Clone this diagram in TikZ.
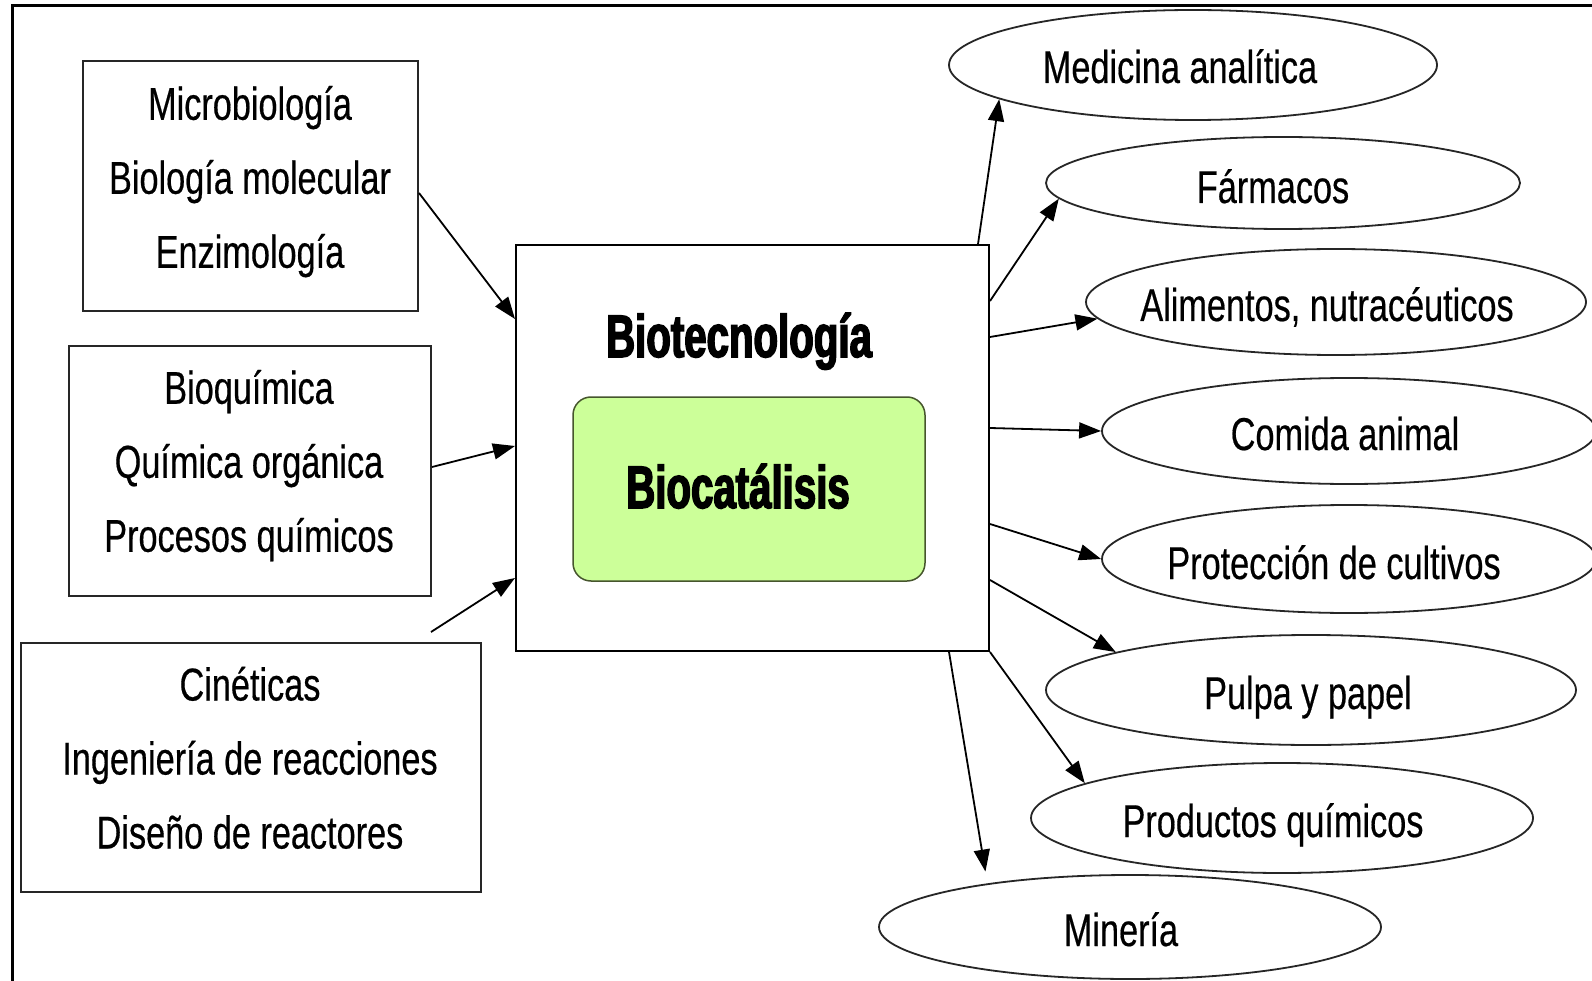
\documentclass[tikz,border=0pt]{standalone}
\usepackage{fontspec}
\setmainfont{Liberation Sans}[FakeStretch=0.745,FakeBold=0.4]
\newfontfamily\titlefont{Liberation Sans Bold}[FakeStretch=0.67,FakeBold=2.5]
\usetikzlibrary{shapes.geometric,arrows.meta,calc}
\definecolor{biogreen}{RGB}{204,255,153}
\definecolor{bioedge}{RGB}{70,85,45}
\begin{document}
\begin{tikzpicture}[x=1pt,y=-1pt,
  txt/.style={font=\fontsize{46}{74}\selectfont, inner sep=0pt, align=center},
  elltxt/.style={font=\fontsize{46}{46}\selectfont, inner sep=0pt, anchor=base},
  ttl/.style={font=\titlefont\fontsize{60}{60}\selectfont, inner sep=0pt, anchor=base},
  srcbox/.style={draw=black!85, line width=2pt, inner sep=0pt, rectangle},
  app/.style={draw=black!85, line width=1.8pt, ellipse, inner sep=0pt},
  arr/.style={line width=1.8pt, -{Triangle[length=22pt,width=16pt]}},
  ]
\path[use as bounding box] (0,0) rectangle (1592,981);
\fill[white] (0,0) rectangle (1592,981);
\draw[line width=3pt] (12.5,981) -- (12.5,5.5) -- (1592,5.5);

% source boxes
\node[srcbox, minimum width=335pt, minimum height=250pt] (b1) at (250.5,186) {};
\node[srcbox, minimum width=362pt, minimum height=250pt] (b2) at (250,471) {};
\node[srcbox, minimum width=460pt, minimum height=249pt] (b3) at (251,767.5) {};
\node[txt] (t1) at (250,181.6) {Microbiología\\Biología molecular\\Enzimología};
\node[txt] (t2) at (249,465.6) {Bioquímica\\Química orgánica\\Procesos químicos};
\node[txt] (t3) at (250,757.8) {Cinéticas\\Ingeniería de reacciones\\Diseño de reactores};

% central box
\node[srcbox, draw=black, minimum width=473pt, minimum height=406pt] (cb) at (752.5,448) {};
\node[draw=bioedge, fill=biogreen, line width=1.5pt, rounded corners=18pt,
      minimum width=352pt, minimum height=184pt, inner sep=0pt] (gb) at (749,489) {};
\node[ttl] (tb) at (739,357) {Biotecnología};
\node[ttl] (tc) at (738,508) {Biocatálisis};

% application ellipses
\node[app, minimum width=488pt, minimum height=110pt] (e1) at (1193,65) {};
\node[app, minimum width=474pt, minimum height=92pt]  (e2) at (1283,183) {};
\node[app, minimum width=500pt, minimum height=106pt] (e3) at (1336,302) {};
\node[app, minimum width=494pt, minimum height=106pt] (e4) at (1349,431) {};
\node[app, minimum width=494pt, minimum height=108pt] (e5) at (1349,559) {};
\node[app, minimum width=530pt, minimum height=110pt] (e6) at (1311,690) {};
\node[app, minimum width=502pt, minimum height=110pt] (e7) at (1282,818) {};
\node[app, minimum width=502pt, minimum height=104pt] (e8) at (1130,927) {};
\node[elltxt] (l1) at (1180,83) {Medicina analítica};
\node[elltxt] (l2) at (1273,203) {Fármacos};
\node[elltxt] (l3) at (1327,321) {Alimentos, nutracéuticos};
\node[elltxt] (l4) at (1345,450) {Comida animal};
\node[elltxt] (l5) at (1334,579) {Protección de cultivos};
\node[elltxt] (l6) at (1308,709) {Pulpa y papel};
\node[elltxt] (l7) at (1273,837) {Productos químicos};
\node[elltxt] (l8) at (1121,946) {Minería};

% incoming arrows
\draw[arr] ($(b1.east)+(0,7)$) -- ($(cb.north west)+(0,75)$);
\draw[arr] ($(b2.east)+(0,-4)$) -- ($(cb.north west)+(0,202)$);
\coordinate (a3s) at (431,632);
\draw[arr] (a3s) -- ($(cb.north west)+(0,334)$);

% outgoing arrows
\draw[arr] ($(cb.north east)+(-12,0)$) -- (e1.190);
\draw[arr] ($(cb.north east)+(0,57)$) -- (e2.184);
\draw[arr] ($(cb.north east)+(0,93)$) -- (e3.184);
\draw[arr] ($(cb.north east)+(0,184)$) -- (e4.180);
\draw[arr] ($(cb.north east)+(0,280)$) -- (e5.180);
\draw[arr] ($(cb.north east)+(0,336)$) -- (e6.169);
\draw[arr] (cb.south east) -- (e7.170);
\draw[arr, shorten >=12pt] ($(cb.south east)+(-41,0)$) -- (e8.163);
\end{tikzpicture}
\end{document}
